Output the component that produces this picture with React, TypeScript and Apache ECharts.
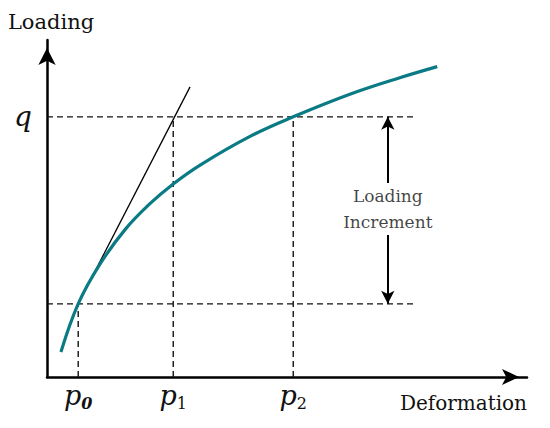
import React, { useEffect, useRef } from "react";
import * as echarts from "echarts";

// Curve (arbitrary units)
const deformation = [0.29, 0.65, 1.10, 1.63, 2.15, 2.63, 3.19, 4.23, 5.13, 6.31, 7.35, 8.13];
const loading = [0.74, 2.17, 3.34, 4.38, 5.15, 5.73, 6.29, 7.14, 7.72, 8.39, 8.88, 9.21];

// Tangent at p0
const tangentX = [0.65, 2.98];
const tangentY = [2.17, 8.61];

// Key positions
const xTicks = [0.65, 2.63, 5.13];
const xTickLabels = ["p0", "p1", "p2"];
const yTicks = [7.72];
const yTickLabels = ["q"];
const qLevel = 7.72;
const q0Level = 2.17;
const dashEndX = 7.63;
const incrementX = 7.1;
const incrementGapTop = 5.76;
const incrementGapBottom = 4.21;
const incrementLabelY = 5.0;
const incrementLabel = ["Loading", "Increment"];

const FONT = "DejaVu Serif";
const TEAL = "#0a7b84";

export default function App() {
  const ref = useRef<HTMLDivElement>(null);
  useEffect(() => {
    document.body.style.margin = "0";
    const chart = echarts.init(ref.current!, null, { renderer: "svg" });

    const dashStyle = { color: "#111", width: 1.4, type: [6, 4] as any };
    const dashSeries: any[] = [];
    [qLevel, q0Level].forEach((y) => {
      dashSeries.push({
        type: "line",
        data: [[0, y], [dashEndX, y]],
        showSymbol: false,
        silent: true,
        lineStyle: dashStyle,
        z: 1,
      });
    });
    const vTops = [q0Level, qLevel, qLevel];
    xTicks.forEach((x, i) => {
      dashSeries.push({
        type: "line",
        data: [[x, 0], [x, vTops[i]]],
        showSymbol: false,
        silent: true,
        lineStyle: dashStyle,
        z: 1,
      });
    });

    const option: any = {
      animation: false,
      grid: { left: 47, right: 23, top: 40, bottom: 51, outerBoundsMode: "none" },
      xAxis: {
        type: "value",
        min: 0,
        max: 10,
        splitLine: { show: false },
        axisTick: { show: false },
        axisLine: {
          show: true,
          lineStyle: { color: "#000", width: 2.5 },
          symbol: ["none", "arrow"],
          symbolSize: [12, 17],
          symbolOffset: [0, -8],
        },
        axisLabel: {
          customValues: xTicks,
          margin: 2,
          formatter: (v: number) => {
            const i = xTicks.indexOf(v);
            const t = xTickLabels[i] || "";
            const sub = t.slice(1);
            return "{p|" + t[0] + "}{" + (i === 0 ? "b" : "s") + "|" + sub + "}";
          },
          rich: {
            p: { fontFamily: FONT, fontStyle: "italic", fontSize: 27, color: "#111", lineHeight: 32, verticalAlign: "middle" },
            s: { fontFamily: FONT, fontSize: 16, color: "#111", lineHeight: 16, verticalAlign: "bottom" },
            b: { fontFamily: FONT, fontSize: 16, fontStyle: "italic", fontWeight: "bold", color: "#111", lineHeight: 16, verticalAlign: "bottom" },
          },
        },
        name: "Deformation",
        nameLocation: "end",
        nameGap: 0,
        nameTextStyle: {
          fontFamily: FONT,
          fontSize: 20,
          color: "#111",
          align: "right",
          verticalAlign: "top",
          padding: [16, 0, 0, 0],
        },
      },
      yAxis: {
        type: "value",
        min: 0,
        max: 10,
        splitLine: { show: false },
        axisTick: { show: false },
        axisLine: {
          show: true,
          lineStyle: { color: "#000", width: 2.5 },
          symbol: ["none", "arrow"],
          symbolSize: [13, 17],
          symbolOffset: [0, -8],
        },
        axisLabel: {
          customValues: yTicks,
          margin: 15,
          formatter: (v: number) => "{q|" + (yTickLabels[yTicks.indexOf(v)] || "") + "}",
          rich: {
            q: { fontFamily: FONT, fontStyle: "italic", fontSize: 28, color: "#111" },
          },
        },
        name: "Loading",
        nameLocation: "end",
        nameGap: 8,
        nameTextStyle: { fontFamily: FONT, fontSize: 21, color: "#111", align: "center", padding: [0, 0, 0, 8] },
      },
      series: [
        ...dashSeries,
        {
          type: "line",
          data: tangentX.map((x, i) => [x, tangentY[i]]),
          showSymbol: false,
          silent: true,
          lineStyle: { color: "#000", width: 1.3 },
          z: 2,
        },
        {
          type: "line",
          data: deformation.map((x, i) => [x, loading[i]]),
          smooth: 0.4,
          showSymbol: false,
          silent: true,
          lineStyle: { color: TEAL, width: 3.2 },
          z: 3,
        },
        {
          type: "line",
          data: [],
          silent: true,
          markLine: {
            silent: true,
            symbol: ["none", "arrow"],
            symbolSize: [10, 13],
            label: { show: false },
            lineStyle: { color: "#000", width: 2, type: "solid" },
            data: [
              [{ coord: [incrementX, incrementGapTop] }, { coord: [incrementX, qLevel] }],
              [{ coord: [incrementX, incrementGapBottom] }, { coord: [incrementX, q0Level] }],
            ],
          },
        },
        {
          type: "scatter",
          data: [[incrementX, incrementLabelY]],
          symbolSize: 0,
          silent: true,
          label: {
            show: true,
            position: "inside",
            formatter: incrementLabel.join("\n"),
            fontFamily: FONT,
            fontSize: 17,
            lineHeight: 26,
            color: "#111",
          },
        },
      ],
    };
    chart.setOption(option);
    return () => chart.dispose();
  }, []);
  return <div ref={ref} style={{ width: 550, height: 428 }} />;
}
